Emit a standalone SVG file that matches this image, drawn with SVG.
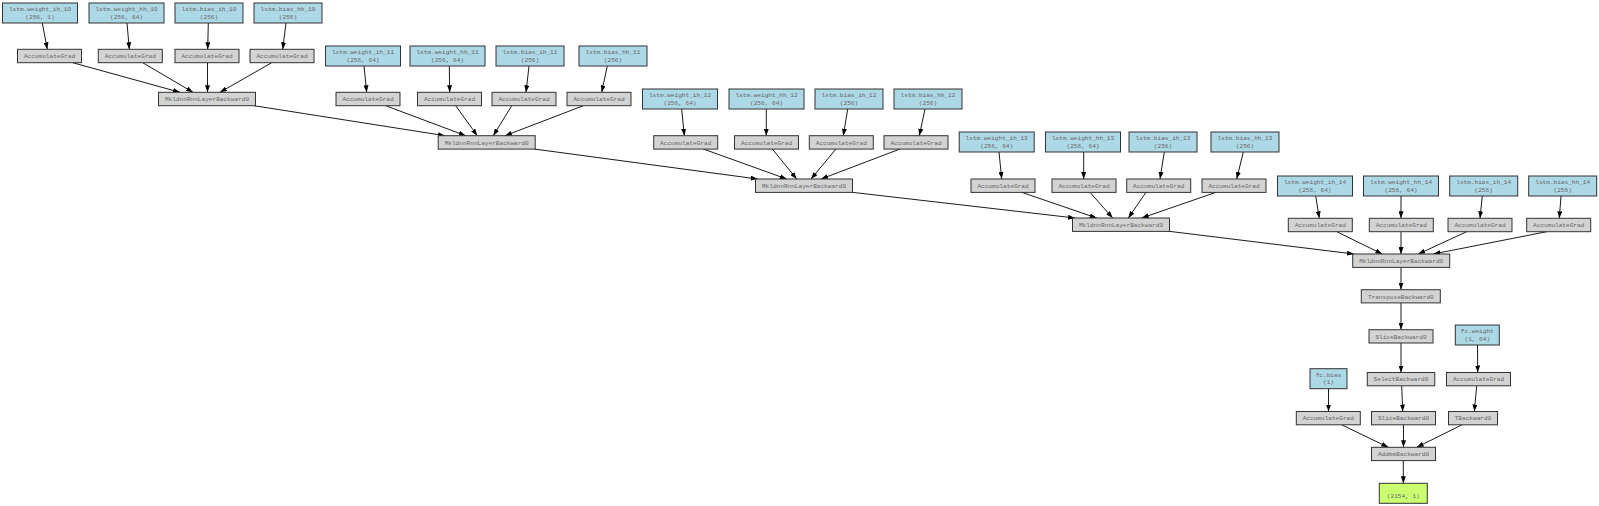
<svg xmlns="http://www.w3.org/2000/svg" width="1599" height="506" viewBox="0 0 1599 506">
<style>
rect{stroke:#333;stroke-width:1}
.p{fill:#add8e6}
.a{fill:#d3d3d3}
.o{fill:#caff70}
text{font-family:"Liberation Mono",monospace;font-size:6.1px;fill:#666;text-anchor:middle}
.e line{stroke:#000;stroke-width:0.9;marker-end:url(#ah)}
</style>
<defs>
<marker id="ah" markerUnits="userSpaceOnUse" markerWidth="7" markerHeight="5" refX="7" refY="2.5" orient="auto">
<path d="M0,0 L7,2.5 L0,5 z" fill="#000"/>
</marker>
</defs>
<rect width="1599" height="506" fill="#fff" style="stroke:none"/>
<g id="connectors" class="e">
<line x1="42.3" y1="23" x2="47.3" y2="49.3"/>
<line x1="127" y1="23" x2="129.3" y2="49.3"/>
<line x1="208.3" y1="23" x2="207.7" y2="49.3"/>
<line x1="286" y1="23" x2="282.7" y2="49.3"/>
<line x1="72.7" y1="62.7" x2="180" y2="92.3"/>
<line x1="142.7" y1="62.7" x2="193" y2="92.3"/>
<line x1="207.5" y1="62.7" x2="207.5" y2="92.3"/>
<line x1="271.7" y1="62.7" x2="220" y2="92.3"/>
<line x1="254" y1="105.7" x2="445" y2="135.7"/>
<line x1="364" y1="66" x2="366.7" y2="92.3"/>
<line x1="449.3" y1="66" x2="449.7" y2="92.3"/>
<line x1="529" y1="66" x2="526" y2="92.3"/>
<line x1="607.3" y1="66" x2="601.7" y2="92.3"/>
<line x1="385.7" y1="105.7" x2="465.7" y2="135.7"/>
<line x1="455.7" y1="105.7" x2="477.3" y2="135.7"/>
<line x1="511.7" y1="105.7" x2="493.3" y2="135.7"/>
<line x1="583.3" y1="105.7" x2="505" y2="135.7"/>
<line x1="534" y1="149" x2="757.7" y2="179"/>
<line x1="681.7" y1="109" x2="684.3" y2="135.7"/>
<line x1="766.3" y1="109" x2="766.3" y2="135.7"/>
<line x1="847.7" y1="109" x2="843.3" y2="135.7"/>
<line x1="925" y1="109" x2="919.3" y2="135.7"/>
<line x1="703.3" y1="149" x2="786.7" y2="179"/>
<line x1="772.3" y1="149" x2="796.7" y2="179"/>
<line x1="836" y1="149" x2="811" y2="179"/>
<line x1="900" y1="149" x2="821" y2="179"/>
<line x1="852" y1="192.3" x2="1075" y2="218"/>
<line x1="999" y1="152" x2="1001.7" y2="179"/>
<line x1="1083.7" y1="152" x2="1083.7" y2="179"/>
<line x1="1164.3" y1="152" x2="1160" y2="179"/>
<line x1="1243.3" y1="152" x2="1236.7" y2="179"/>
<line x1="1021.7" y1="192.3" x2="1096.7" y2="218"/>
<line x1="1090" y1="192.3" x2="1112.7" y2="218"/>
<line x1="1146" y1="192.3" x2="1128.3" y2="218"/>
<line x1="1216" y1="192.3" x2="1141.7" y2="218"/>
<line x1="1169" y1="231.3" x2="1354" y2="254"/>
<line x1="1315.7" y1="196" x2="1319.3" y2="218.3"/>
<line x1="1401" y1="196" x2="1401" y2="218.3"/>
<line x1="1482.3" y1="196" x2="1480" y2="218.3"/>
<line x1="1561" y1="196" x2="1559.3" y2="218.3"/>
<line x1="1336.7" y1="231.7" x2="1382.3" y2="254"/>
<line x1="1401" y1="231.7" x2="1401" y2="254"/>
<line x1="1466.7" y1="231.7" x2="1418.3" y2="254"/>
<line x1="1546.7" y1="231.7" x2="1433.3" y2="254"/>
<line x1="1401" y1="267.3" x2="1401" y2="289.7"/>
<line x1="1401" y1="302.7" x2="1401" y2="329.7"/>
<line x1="1401" y1="343" x2="1401" y2="372.5"/>
<line x1="1401.7" y1="385.8" x2="1402.7" y2="411.5"/>
<line x1="1403.5" y1="424.8" x2="1403.5" y2="447.3"/>
<line x1="1341.7" y1="424.8" x2="1388.3" y2="447.3"/>
<line x1="1462" y1="424.8" x2="1416.7" y2="447.3"/>
<line x1="1328.5" y1="388.7" x2="1328.5" y2="411.5"/>
<line x1="1477.5" y1="345" x2="1477.7" y2="372.5"/>
<line x1="1476.7" y1="385.8" x2="1474.3" y2="411.5"/>
<line x1="1403.3" y1="460.6" x2="1403.3" y2="483.3"/>
</g>
<!-- layer 10 -->
<g id="p_w_ih_10"><rect class="p" x="2.5" y="3" width="75" height="20"/><text x="40" y="11.3">lstm.weight_ih_10</text><text x="40" y="18.7">(256, 1)</text></g>
<g id="p_w_hh_10"><rect class="p" x="89" y="3" width="75" height="20"/><text x="126.5" y="11.3">lstm.weight_hh_10</text><text x="126.5" y="18.7">(256, 64)</text></g>
<g id="p_b_ih_10"><rect class="p" x="175" y="3" width="68" height="20"/><text x="209" y="11.3">lstm.bias_ih_10</text><text x="209" y="18.7">(256)</text></g>
<g id="p_b_hh_10"><rect class="p" x="254" y="3" width="68" height="20"/><text x="288" y="11.3">lstm.bias_hh_10</text><text x="288" y="18.7">(256)</text></g>
<g id="a_w_ih_10"><rect class="a" x="17.5" y="49.3" width="64" height="13.4"/><text x="49.5" y="58.2">AccumulateGrad</text></g>
<g id="a_w_hh_10"><rect class="a" x="98.3" y="49.3" width="64" height="13.4"/><text x="130.3" y="58.2">AccumulateGrad</text></g>
<g id="a_b_ih_10"><rect class="a" x="175" y="49.3" width="64" height="13.4"/><text x="207" y="58.2">AccumulateGrad</text></g>
<g id="a_b_hh_10"><rect class="a" x="250" y="49.3" width="64" height="13.4"/><text x="282" y="58.2">AccumulateGrad</text></g>
<g id="m_10"><rect class="a" x="158.5" y="92.3" width="97" height="13.4"/><text x="207" y="101.2">MkldnnRnnLayerBackward0</text></g>
<!-- layer 11 -->
<g id="p_w_ih_11"><rect class="p" x="325.5" y="46" width="75" height="20"/><text x="363" y="54.3">lstm.weight_ih_11</text><text x="363" y="61.7">(256, 64)</text></g>
<g id="p_w_hh_11"><rect class="p" x="410" y="46" width="75" height="20"/><text x="447.5" y="54.3">lstm.weight_hh_11</text><text x="447.5" y="61.7">(256, 64)</text></g>
<g id="p_b_ih_11"><rect class="p" x="496" y="46" width="68" height="20"/><text x="530" y="54.3">lstm.bias_ih_11</text><text x="530" y="61.7">(256)</text></g>
<g id="p_b_hh_11"><rect class="p" x="579" y="46" width="68" height="20"/><text x="613" y="54.3">lstm.bias_hh_11</text><text x="613" y="61.7">(256)</text></g>
<g id="a_w_ih_11"><rect class="a" x="336" y="92.3" width="64" height="13.4"/><text x="368" y="101.2">AccumulateGrad</text></g>
<g id="a_w_hh_11"><rect class="a" x="417.5" y="92.3" width="64" height="13.4"/><text x="449.5" y="101.2">AccumulateGrad</text></g>
<g id="a_b_ih_11"><rect class="a" x="492" y="92.3" width="64" height="13.4"/><text x="524" y="101.2">AccumulateGrad</text></g>
<g id="a_b_hh_11"><rect class="a" x="567" y="92.3" width="64" height="13.4"/><text x="599" y="101.2">AccumulateGrad</text></g>
<g id="m_11"><rect class="a" x="438.2" y="135.7" width="97" height="13.4"/><text x="486.7" y="144.6">MkldnnRnnLayerBackward0</text></g>
<!-- layer 12 -->
<g id="p_w_ih_12"><rect class="p" x="642.5" y="89" width="75" height="20"/><text x="680" y="97.3">lstm.weight_ih_12</text><text x="680" y="104.7">(256, 64)</text></g>
<g id="p_w_hh_12"><rect class="p" x="729" y="89" width="75" height="20"/><text x="766.5" y="97.3">lstm.weight_hh_12</text><text x="766.5" y="104.7">(256, 64)</text></g>
<g id="p_b_ih_12"><rect class="p" x="815" y="89" width="68" height="20"/><text x="849" y="97.3">lstm.bias_ih_12</text><text x="849" y="104.7">(256)</text></g>
<g id="p_b_hh_12"><rect class="p" x="894" y="89" width="68" height="20"/><text x="928" y="97.3">lstm.bias_hh_12</text><text x="928" y="104.7">(256)</text></g>
<g id="a_w_ih_12"><rect class="a" x="653.7" y="135.7" width="64" height="13.4"/><text x="685.7" y="144.6">AccumulateGrad</text></g>
<g id="a_w_hh_12"><rect class="a" x="734.5" y="135.7" width="64" height="13.4"/><text x="766.5" y="144.6">AccumulateGrad</text></g>
<g id="a_b_ih_12"><rect class="a" x="809.3" y="135.7" width="64" height="13.4"/><text x="841.3" y="144.6">AccumulateGrad</text></g>
<g id="a_b_hh_12"><rect class="a" x="884" y="135.7" width="64" height="13.4"/><text x="916" y="144.6">AccumulateGrad</text></g>
<g id="m_12"><rect class="a" x="755.5" y="179" width="97" height="13.4"/><text x="804" y="187.9">MkldnnRnnLayerBackward0</text></g>
<!-- layer 13 -->
<g id="p_w_ih_13"><rect class="p" x="959.2" y="132" width="75" height="20"/><text x="996.7" y="140.3">lstm.weight_ih_13</text><text x="996.7" y="147.7">(256, 64)</text></g>
<g id="p_w_hh_13"><rect class="p" x="1045.5" y="132" width="75" height="20"/><text x="1083" y="140.3">lstm.weight_hh_13</text><text x="1083" y="147.7">(256, 64)</text></g>
<g id="p_b_ih_13"><rect class="p" x="1129" y="132" width="68" height="20"/><text x="1163" y="140.3">lstm.bias_ih_13</text><text x="1163" y="147.7">(256)</text></g>
<g id="p_b_hh_13"><rect class="p" x="1211" y="132" width="68" height="20"/><text x="1245" y="140.3">lstm.bias_hh_13</text><text x="1245" y="147.7">(256)</text></g>
<g id="a_w_ih_13"><rect class="a" x="971" y="179" width="64" height="13.4"/><text x="1003" y="187.9">AccumulateGrad</text></g>
<g id="a_w_hh_13"><rect class="a" x="1052" y="179" width="64" height="13.4"/><text x="1084" y="187.9">AccumulateGrad</text></g>
<g id="a_b_ih_13"><rect class="a" x="1126.7" y="179" width="64" height="13.4"/><text x="1158.7" y="187.9">AccumulateGrad</text></g>
<g id="a_b_hh_13"><rect class="a" x="1202" y="179" width="64" height="13.4"/><text x="1234" y="187.9">AccumulateGrad</text></g>
<g id="m_13"><rect class="a" x="1072.5" y="218" width="97" height="13.4"/><text x="1121" y="226.9">MkldnnRnnLayerBackward0</text></g>
<!-- layer 14 -->
<g id="p_w_ih_14"><rect class="p" x="1277.5" y="176" width="75" height="20"/><text x="1315" y="184.3">lstm.weight_ih_14</text><text x="1315" y="191.7">(256, 64)</text></g>
<g id="p_w_hh_14"><rect class="p" x="1363.5" y="176" width="75" height="20"/><text x="1401" y="184.3">lstm.weight_hh_14</text><text x="1401" y="191.7">(256, 64)</text></g>
<g id="p_b_ih_14"><rect class="p" x="1449.7" y="176" width="68" height="20"/><text x="1483.7" y="184.3">lstm.bias_ih_14</text><text x="1483.7" y="191.7">(256)</text></g>
<g id="p_b_hh_14"><rect class="p" x="1528.7" y="176" width="68" height="20"/><text x="1562.7" y="184.3">lstm.bias_hh_14</text><text x="1562.7" y="191.7">(256)</text></g>
<g id="a_w_ih_14"><rect class="a" x="1288.3" y="218.3" width="64" height="13.4"/><text x="1320.3" y="227.2">AccumulateGrad</text></g>
<g id="a_w_hh_14"><rect class="a" x="1369.3" y="218.3" width="64" height="13.4"/><text x="1401.3" y="227.2">AccumulateGrad</text></g>
<g id="a_b_ih_14"><rect class="a" x="1448" y="218.3" width="64" height="13.4"/><text x="1480" y="227.2">AccumulateGrad</text></g>
<g id="a_b_hh_14"><rect class="a" x="1526.7" y="218.3" width="64" height="13.4"/><text x="1558.7" y="227.2">AccumulateGrad</text></g>
<g id="m_14"><rect class="a" x="1352.7" y="254" width="97" height="13.4"/><text x="1401.2" y="262.9">MkldnnRnnLayerBackward0</text></g>
<!-- head -->
<g id="transpose"><rect class="a" x="1361.3" y="289.7" width="79" height="13.2"/><text x="1400.8" y="298.5">TransposeBackward0</text></g>
<g id="slice1"><rect class="a" x="1369" y="329.7" width="64" height="13.3"/><text x="1401" y="338.5">SliceBackward0</text></g>
<g id="fc_weight"><rect class="p" x="1455.3" y="325" width="44" height="20"/><text x="1477.3" y="333.3">fc.weight</text><text x="1477.3" y="340.7">(1, 64)</text></g>
<g id="fc_bias"><rect class="p" x="1310" y="368.7" width="37" height="20"/><text x="1328.5" y="377">fc.bias</text><text x="1328.5" y="384.4">(1)</text></g>
<g id="select"><rect class="a" x="1367.3" y="372.5" width="67.5" height="13.3"/><text x="1401" y="381.3">SelectBackward0</text></g>
<g id="a_fc_weight"><rect class="a" x="1446.5" y="372.5" width="64" height="13.3"/><text x="1478.5" y="381.3">AccumulateGrad</text></g>
<g id="a_fc_bias"><rect class="a" x="1296.3" y="411.5" width="64" height="13.3"/><text x="1328.3" y="420.3">AccumulateGrad</text></g>
<g id="slice2"><rect class="a" x="1371.5" y="411.5" width="64" height="13.3"/><text x="1403.5" y="420.3">SliceBackward0</text></g>
<g id="tback"><rect class="a" x="1448.5" y="411.5" width="49" height="13.3"/><text x="1473" y="420.3">TBackward0</text></g>
<g id="addmm"><rect class="a" x="1371.5" y="447.3" width="64" height="13.3"/><text x="1403.5" y="456.1">AddmmBackward0</text></g>
<g id="output"><rect class="o" x="1379.3" y="483.3" width="48" height="20"/><text x="1403.3" y="498">(2154, 1)</text></g>
</svg>
